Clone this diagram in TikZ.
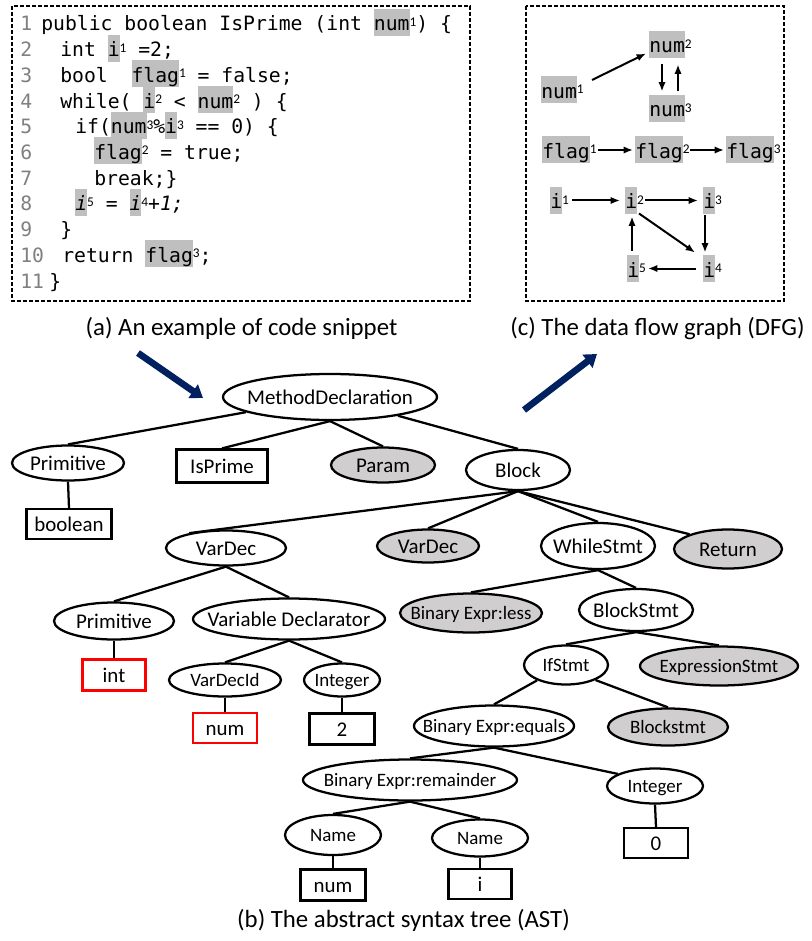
\documentclass[tikz,border=0pt]{standalone}
\usepackage{fontspec}
\setmainfont{Carlito}
\newfontfamily\codefont{DejaVu Sans Mono}
\usetikzlibrary{shapes.geometric,arrows.meta,calc}
\definecolor{hlgray}{HTML}{BFBFBF}
\definecolor{astgray}{HTML}{D0CECE}
\definecolor{navyblue}{HTML}{002060}
\definecolor{lngray}{HTML}{808080}
\newcommand\hl[1]{{\setlength{\fboxsep}{0pt}\colorbox{hlgray}{\rule[-3.75pt]{0pt}{20.25pt}#1}}}
\newcommand\sps[1]{\raisebox{3.5pt}{\fontsize{10pt}{10pt}\rmfamily\upshape\selectfont #1}}
\newcommand\lbl[1]{\makebox[0pt]{#1}}
\newcommand\astL{\fontsize{15.7pt}{18pt}\selectfont}
\newcommand\astS{\fontsize{14.2pt}{17pt}\selectfont}
\newcommand\codesz{\fontsize{14.8pt}{18pt}\selectfont}
\begin{document}
\begin{tikzpicture}[x=0.75pt,y=-0.75pt,
  sz/.style 2 args={minimum width=#1*0.75pt, minimum height=#2*0.75pt},
  ell/.style={draw, ellipse, line width=1.7pt, inner sep=0pt, font=\astL, text height=11.4pt, text depth=0.4pt},
  gell/.style={ell, fill=astgray},
  small/.style={font=\astS, text height=10.4pt, text depth=0.4pt},
  abox/.style={draw, rectangle, line width=1.7pt, inner sep=0pt, font=\astL, text height=11.4pt, text depth=0.4pt},
  rbox/.style={abox, draw=red},
  astedge/.style={line width=1.7pt},
  codeline/.style={anchor=base west, inner sep=0pt, font=\codefont\codesz},
  lnum/.style={codeline, text=lngray},
  dfg/.style={anchor=west, inner sep=0pt, font=\codefont\codesz},
  darr/.style={line width=1.5pt, -{Latex[length=7pt,width=5.5pt]}},
  bigarr/.style={line width=5pt, navyblue, -{Triangle[length=9pt,width=12pt]}},
  dashframe/.style={line width=1.1pt, dash pattern=on 3pt off 1.5pt},
  capt/.style={anchor=base, inner sep=0pt, font=\fontsize{18.6pt}{22pt}\selectfont}
]
\useasboundingbox (0,0) rectangle (812,941);
\fill[white] (0,0) rectangle (812,941);

% ---------- (a) code snippet ----------
\draw[dashframe] (12,6) rectangle (470,301);
\node[lnum] (l1) at (20,31) {1};
\node[lnum] (l2) at (20,56.7) {2};
\node[lnum] (l3) at (20,82.4) {3};
\node[lnum] (l4) at (20,108.1) {4};
\node[lnum] (l5) at (20,133.8) {5};
\node[lnum] (l6) at (20,159.5) {6};
\node[lnum] (l7) at (20,185.2) {7};
\node[lnum] (l8) at (20,210.9) {8};
\node[lnum] (l9) at (20,236.6) {9};
\node[lnum] (l10) at (20,262.3) {10};
\node[lnum] (l11) at (20,288) {11};
\node[codeline] (c1) at (41,31) {public boolean IsPrime (int \hl{num}\sps{1}) \{};
\node[codeline] (c2) at (60,56.7) {int \hl{i}\sps{1} =2;};
\node[codeline] (c3) at (60,82.4) {bool~~\hl{flag}\sps{1} = false;};
\node[codeline] (c4) at (60,108.1) {while( \hl{i}\sps{2} < \hl{num}\sps{2} ) \{};
\node[codeline] (c5) at (75,133.8) {if(\hl{num}\sps{3}\%\hl{i}\sps{3} == 0) \{};
\node[codeline] (c6) at (94,159.5) {\hl{flag}\sps{2} = true;};
\node[codeline] (c7) at (94,185.2) {break;\}};
\node[codeline] (c8) at (75,210.9) {\itshape\hl{i}\sps{5} = \hl{i}\sps{4}+1;};
\node[codeline] (c9) at (60,236.6) {\}};
\node[codeline] (c10) at (62,262.3) {return \hl{flag}\sps{3};};
\node[codeline] (c11) at (49,288) {\}};
\node[capt] (capa) at (241.5,335) {(a) An example of code snippet};

% ---------- (c) DFG ----------
\draw[dashframe] (526,6) rectangle (784,301);
\node[dfg] (n2) at (649,44.5) {\hl{num}\sps{2}};
\node[dfg] (n1) at (541,90) {\hl{num}\sps{1}};
\node[dfg] (n3) at (649,108.5) {\hl{num}\sps{3}};
\node[dfg] (f1) at (542,150) {\hl{flag}\sps{1}};
\node[dfg] (f2) at (635,150) {\hl{flag}\sps{2}};
\node[dfg] (f3) at (726,150) {\hl{flag}\sps{3}};
\node[dfg] (i1) at (550,200.5) {\hl{i}\sps{1}};
\node[dfg] (i2) at (625,200.5) {\hl{i}\sps{2}};
\node[dfg] (i3) at (703,200.5) {\hl{i}\sps{3}};
\node[dfg] (i5) at (627,268.5) {\hl{i}\sps{5}};
\node[dfg] (i4) at (703,268.5) {\hl{i}\sps{4}};
\draw[darr] ($(n1.west)+(51,-10)$) -- ($(n2.west)+(-3,9)$);
\draw[darr] ($(n2.west)+(13,20)$) -- ($(n3.west)+(13,-17)$);
\draw[darr] ($(n3.west)+(29,-17)$) -- ($(n2.west)+(29,20)$);
\draw[darr] ($(f1.west)+(56,0)$) -- ($(f2.west)+(-2,0)$);
\draw[darr] ($(f2.west)+(55,0)$) -- ($(f3.west)+(-2,0)$);
\draw[darr] ($(i1.west)+(22,0)$) -- ($(i2.west)+(-5,0)$);
\draw[darr] ($(i2.west)+(20,0)$) -- ($(i3.west)+(-5,0)$);
\draw[darr] ($(i3.west)+(2,15)$) -- ($(i4.west)+(2,-16)$);
\draw[darr] ($(i2.west)+(14,13)$) -- ($(i4.west)+(-8,-16)$);
\draw[darr] ($(i4.west)+(-7,0)$) -- ($(i5.west)+(21,0)$);
\draw[darr] ($(i5.west)+(5,-18)$) -- ($(i2.west)+(7,16)$);
\node[capt] (capc) at (657.5,335) {(c) The data flow graph (DFG)};

% ---------- big arrows ----------
\coordinate (a1s) at (138,353);
\coordinate (a1e) at (203,398);
\coordinate (a2s) at (524,410);
\coordinate (a2e) at (597,354);
\draw[bigarr] (a1s) -- (a1e);
\draw[bigarr] (a2s) -- (a2e);

% ---------- (b) AST ----------
\node[ell, sz={214}{46}] (md) at (330,397) {\lbl{MethodDeclaration}};
\node[ell, sz={112}{35}] (prim1) at (68,463) {\lbl{Primitive}};
\node[abox, sz={91}{33}] (isprime) at (222,466) {\lbl{IsPrime}};
\node[gell, sz={104}{35}] (param) at (383,465) {\lbl{Param}};
\node[ell, sz={104}{40}] (block) at (518,470) {\lbl{Block}};
\node[abox, sz={85}{30}] (boolean) at (69,524) {\lbl{boolean}};
\node[ell, sz={120}{35}] (vardec1) at (226,548) {\lbl{VarDec}};
\node[gell, sz={102}{33}] (vardec2) at (428,546) {\lbl{VarDec}};
\node[ell, sz={114}{46}] (whl) at (598,546) {\lbl{WhileStmt}};
\node[gell, sz={108}{39}] (retn) at (728,549) {\lbl{Return}};
\node[ell, sz={120}{37}] (prim2) at (114,621) {\lbl{Primitive}};
\node[ell, sz={192}{41}] (vdecl) at (289,619) {\lbl{Variable Declarator}};
\node[gell, small, sz={142}{39}] (bless) at (471,613) {\lbl{Binary Expr:less}};
\node[ell, sz={114}{42}] (blockstmt) at (636,610) {\lbl{BlockStmt}};
\node[rbox, sz={63}{31}] (intr) at (114,675) {\lbl{int}};
\node[ell, small, sz={112}{33}] (vardecid) at (225,680) {\lbl{VarDecId}};
\node[ell, small, sz={76}{33}] (integer1) at (342,680) {\lbl{Integer}};
\node[ell, small, sz={84}{39}] (ifstmt) at (566,665) {\lbl{IfStmt}};
\node[gell, small, sz={158}{39}] (exprstmt) at (719,666) {\lbl{ExpressionStmt}};
\node[rbox, sz={64}{30}] (numr) at (225,728) {\lbl{num}};
\node[abox, sz={65}{31}] (two) at (342,729) {\lbl{2}};
\node[ell, small, sz={160}{41}] (bequals) at (494,726) {\lbl{Binary Expr:equals}};
\node[gell, small, sz={120}{37}] (blockstmt2) at (668,727) {\lbl{Blockstmt}};
\node[ell, small, sz={214}{41}] (brem) at (410,780) {\lbl{Binary Expr:remainder}};
\node[ell, small, sz={96}{35}] (integer2) at (655,786) {\lbl{Integer}};
\node[ell, small, sz={96}{40}] (name1) at (333,835) {\lbl{Name}};
\node[ell, small, sz={96}{37}] (name2) at (480,838) {\lbl{Name}};
\node[abox, sz={64}{30}] (zero) at (656,843) {\lbl{0}};
\node[abox, sz={65}{31}] (numb) at (333,885) {\lbl{num}};
\node[abox, sz={63}{30}] (ib) at (480,884) {\lbl{i}};

\draw[astedge] (md) -- (prim1.north);
\draw[astedge] (md.south) -- (isprime.north);
\draw[astedge] (md.south) -- (param.north);
\draw[astedge] (md) -- (block.north);
\draw[astedge] (prim1.south) -- (boolean.north);
\draw[astedge] (block.south) -- (vardec1.158);
\draw[astedge] (block.south) -- (vardec2.north);
\draw[astedge] (block.south) -- (whl.north);
\draw[astedge] (block.south) -- (retn.159);
\draw[astedge] (vardec1.south) -- (prim2.north);
\draw[astedge] (vardec1.south) -- (vdecl.north);
\draw[astedge] (prim2.south) -- (intr.north);
\draw[astedge] (vdecl.south) -- (vardecid.north);
\draw[astedge] (vdecl.south) -- (integer1.north);
\draw[astedge] (vardecid.south) -- (numr.north);
\draw[astedge] (integer1.south) -- (two.north);
\draw[astedge] (whl.south) -- (bless.north);
\draw[astedge] (whl.south) -- (blockstmt.north);
\draw[astedge] (blockstmt.south) -- (ifstmt.north);
\draw[astedge] (blockstmt.south) -- (exprstmt.north);
\draw[astedge] (ifstmt.208) -- (bequals.north);
\draw[astedge] (ifstmt.333) -- (blockstmt2.north);
\draw[astedge] (bequals.south) -- (brem.north);
\draw[astedge] (bequals.south) -- (integer2.162);
\draw[astedge] (integer2.south) -- (zero.north);
\draw[astedge] (brem.south) -- (name1.north);
\draw[astedge] (brem.south) -- (name2.north);
\draw[astedge] (name1.south) -- (numb.north);
\draw[astedge] (name2.south) -- (ib.north);
\node[capt] (capb) at (403.5,927) {(b) The abstract syntax tree (AST)};
\end{tikzpicture}
\end{document}
